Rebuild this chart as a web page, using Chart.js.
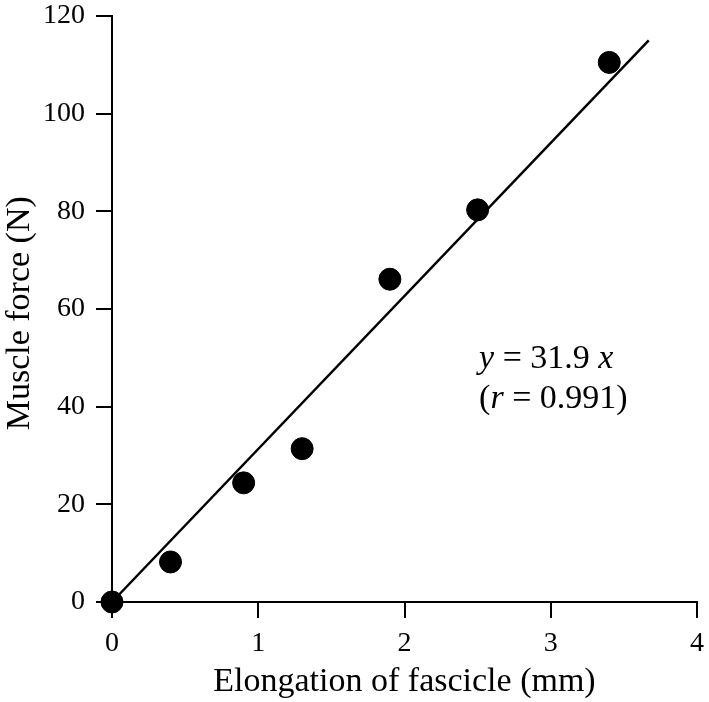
<!DOCTYPE html>
<html><head><meta charset="utf-8">
<script src="https://cdn.jsdelivr.net/npm/chart.js@4/dist/chart.umd.min.js"></script>
<style>html,body{margin:0;padding:0;background:#fff;}#wrap{width:709px;height:702px;}</style>
</head><body><div id="wrap"><canvas id="c" width="709" height="702"></canvas></div>
<script>
// Data
const elongationMm = [0, 0.4, 0.9, 1.3, 1.9, 2.5, 3.4];
const muscleForceN = [0, 8.2, 24.4, 31.4, 66.1, 80.3, 110.5];
const fitLineX = [0, 3.67];
const fitLineY = [0, 115];
const xTickValues = [0, 1, 2, 3, 4];
const yTickValues = [0, 20, 40, 60, 80, 100, 120];
const xTitle = 'Elongation of fascicle (mm)';
const yTitle = 'Muscle force (N) ';
const equationText = [
  [['y', true], [' = 31.9 ', false], ['x', true]],
  [['(', false], ['r', true], [' = 0.991)', false]]
];
const equationAnchor = {x: 2.51, y: [48.0, 39.7]};

const FONT = '"Liberation Serif", "Times New Roman", serif';

const annotationPlugin = {
  id: 'eqn',
  afterDatasetsDraw(chart) {
    const ctx = chart.ctx;
    const xs = chart.scales.x, ys = chart.scales.y;
    ctx.save();
    ctx.fillStyle = '#000';
    ctx.textBaseline = 'alphabetic';
    equationText.forEach((line, i) => {
      let px = xs.getPixelForValue(equationAnchor.x);
      const py = ys.getPixelForValue(equationAnchor.y[i]);
      line.forEach(([t, it]) => {
        ctx.font = (it ? 'italic ' : '') + '34px ' + FONT;
        ctx.fillText(t, px, py);
        px += ctx.measureText(t).width;
      });
    });
    ctx.restore();
  }
};

new Chart(document.getElementById('c'), {
  type: 'scatter',
  data: {
    datasets: [
      {
        type: 'scatter',
        data: elongationMm.map((x, i) => ({x, y: muscleForceN[i]})),
        backgroundColor: '#000',
        borderColor: '#000',
        pointRadius: 11,
        pointHoverRadius: 11,
        clip: false,
        order: 0
      },
      {
        type: 'line',
        data: fitLineX.map((x, i) => ({x, y: fitLineY[i]})),
        borderColor: '#000',
        borderWidth: 2.5,
        pointRadius: 0,
        fill: false,
        clip: false,
        order: 1
      }
    ]
  },
  options: {
    responsive: false,
    animation: false,
    devicePixelRatio: 1,
    layout: {padding: {top: 16, right: 6, left: 0, bottom: 0}},
    plugins: {legend: {display: false}, tooltip: {enabled: false}},
    scales: {
      x: {
        type: 'linear', min: 0, max: 4,
        afterFit: s => { s.height = 100; s.paddingLeft = 0; s.paddingRight = 0; },
        afterBuildTicks: s => { s.ticks = xTickValues.map(v => ({value: v})); },
        grid: {drawOnChartArea: false, drawTicks: true, tickLength: 16, color: '#000', lineWidth: 2},
        border: {display: true, color: '#000', width: 2},
        ticks: {color: '#000', font: {family: FONT, size: 28}, padding: 9, maxRotation: 0},
        title: {display: true, text: xTitle, color: '#000', font: {family: FONT, size: 34}, padding: 0}
      },
      y: {
        type: 'linear', min: 0, max: 120,
        afterFit: s => { s.width = 112; s.paddingTop = 0; s.paddingBottom = 0; },
        afterBuildTicks: s => { s.ticks = yTickValues.map(v => ({value: v})); },
        grid: {drawOnChartArea: false, drawTicks: true, tickLength: 16, color: '#000', lineWidth: 2},
        border: {display: true, color: '#000', width: 2},
        ticks: {color: '#000', font: {family: FONT, size: 28}, padding: 11},
        title: {display: true, text: yTitle, color: '#000', font: {family: FONT, size: 34}, padding: 0}
      }
    }
  },
  plugins: [annotationPlugin]
});
</script></body></html>
